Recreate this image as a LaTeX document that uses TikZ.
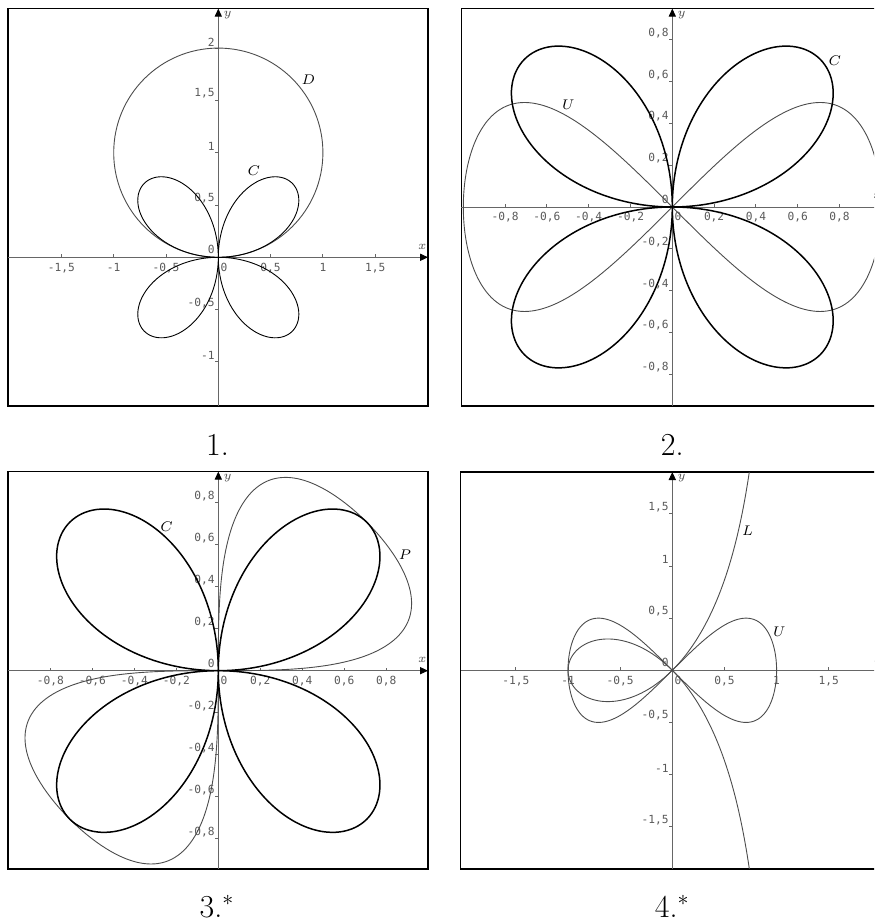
\documentclass[tikz,border=0pt]{standalone}
\usepackage{fontspec}
\setmonofont{DejaVu Sans Mono}
\usetikzlibrary{arrows.meta}

\begin{document}
\begin{tikzpicture}[
  x=0.5pt, y=0.5pt,
  panel/.style={draw=black, line width=0.7pt},
  axisline/.style={draw=black!60, line width=0.45pt},
  arrowline/.style={axisline, -{Triangle[length=4pt,width=3.6pt,color=black]}},
  tickmark/.style={draw=black!60, line width=0.45pt},
  num/.style={font=\ttfamily\fontsize{5.6}{6.5}\selectfont, text=black!65, inner sep=0pt},
  curve/.style={draw=black!70, line width=0.45pt},
  boldcurve/.style={draw=black, line width=0.75pt},
  curvelabel/.style={font=\fontsize{7.5}{9}\selectfont, inner sep=0pt},
  axislabel/.style={font=\fontsize{6.5}{8}\selectfont, text=black!70, inner sep=0pt},
  panelno/.style={font=\fontsize{16}{19}\selectfont, inner sep=0pt, anchor=base},
  declare function={pr(\q)=sqrt(abs(3*\q/(1+0.807*\q+1.193*\q*\q)));},
]
\clip (0,0) rectangle (874,924);

% Panel 1: circle D and the four-leaved rose C
\begin{scope}[shift={(218.3,666.7)}, x=52.3pt, y=52.3pt]
  \draw[panel] (-2.01,-1.422) rectangle (2.005,2.377);
  \draw[arrowline] (-2.01,0) -- (2.005,0);
  \draw[arrowline] (0,-1.422) -- (0,2.377);
  \foreach \v/\t [count=\i] in {-1.5/{-1,5}, -1/{-1}, -0.5/{-0,5}, 0.5/{0,5}, 1/{1}, 1.5/{1,5}} {
    \draw[tickmark] (\v,0) -- ++(0,1.5pt);
    \node[num, anchor=north] (p1x\i) at ([yshift=-2.6pt]\v,0) {\t};
  }
  \foreach \v/\t [count=\i] in {2/{2}, 1.5/{1,5}, 1/{1}, 0.5/{0,5}, -0.5/{-0,5}, -1/{-1}} {
    \draw[tickmark] (0,\v) -- ++(-1.5pt,0);
    \node[num, anchor=south east] (p1y\i) at ([xshift=-1.7pt, yshift=0.8pt]0,\v) {\t};
  }
  \node[num, anchor=south east] (p1y0) at ([xshift=-1.7pt, yshift=1.5pt]0,0) {0};
  \node[num, anchor=north west] (p1x0) at ([xshift=1pt, yshift=-2.6pt]0,0) {0};
  \node[axislabel] (p1ylab) at ([xshift=4.7pt, yshift=-3.2pt]0,2.377) {$y$};
  \node[axislabel] (p1xlab) at ([xshift=-2.9pt, yshift=5.3pt]2.005,0) {$x$};
  \begin{scope}
    \clip (-2.01,-1.422) rectangle (2.005,2.377);
    \draw[curve] (0,1) circle[radius=1];
    \draw[curve, draw=black] plot[domain=0:360, samples=361, smooth, variable=\a]
      ({sin(2*\a)*cos(\a)}, {sin(2*\a)*sin(\a)});
  \end{scope}
  \node[curvelabel] (labD) at (0.86,1.695) {$D$};
  \node[curvelabel] (labC1) at (0.341,0.828) {$C$};
\end{scope}

% Panel 2: rose C and Gerono's lemniscate U
\begin{scope}[shift={(672.3,717)}, x=104.5pt, y=104.5pt]
  \draw[panel] (-1.01,-0.952) rectangle (1.01,0.949);
  \draw[arrowline] (-1.01,0) -- (1.01,0);
  \draw[arrowline] (0,-0.952) -- (0,0.949);
  \foreach \v/\t [count=\i] in {-0.8/{-0,8}, -0.6/{-0,6}, -0.4/{-0,4}, -0.2/{-0,2}, 0.2/{0,2}, 0.4/{0,4}, 0.6/{0,6}, 0.8/{0,8}} {
    \draw[tickmark] (\v,0) -- ++(0,1.5pt);
    \node[num, anchor=north] (p2x\i) at ([yshift=-2.6pt]\v,0) {\t};
  }
  \foreach \v/\t [count=\i] in {0.8/{0,8}, 0.6/{0,6}, 0.4/{0,4}, 0.2/{0,2}, -0.2/{-0,2}, -0.4/{-0,4}, -0.6/{-0,6}, -0.8/{-0,8}} {
    \draw[tickmark] (0,\v) -- ++(-1.5pt,0);
    \node[num, anchor=south east] (p2y\i) at ([xshift=-1.7pt, yshift=0.8pt]0,\v) {\t};
  }
  \node[num, anchor=south east] (p2y0) at ([xshift=-1.7pt, yshift=1.5pt]0,0) {0};
  \node[num, anchor=north west] (p2x0) at ([xshift=1pt, yshift=-2.6pt]0,0) {0};
  \node[axislabel] (p2ylab) at ([xshift=4.7pt, yshift=-3.2pt]0,0.949) {$y$};
  \node[axislabel] (p2xlab) at ([xshift=-2.9pt, yshift=5.3pt]1.01,0) {$x$};
  \begin{scope}
    \clip (-1.01,-0.952) rectangle (1.01,0.949);
    \draw[curve] plot[domain=0:360, samples=241, smooth, variable=\a]
      ({cos(\a)}, {sin(\a)*cos(\a)});
    \draw[boldcurve] plot[domain=0:360, samples=361, smooth, variable=\a]
      ({sin(2*\a)*cos(\a)}, {sin(2*\a)*sin(\a)});
  \end{scope}
  \node[curvelabel] (labC2) at (0.778,0.699) {$C$};
  \node[curvelabel] (labU2) at (-0.498,0.488) {$U$};
\end{scope}

% Panel 3: rose C and the two-leaved curve P
\begin{scope}[shift={(218.3,253.3)}, x=105pt, y=105pt]
  \draw[panel] (-1.0014,-0.944) rectangle (0.9986,0.948);
  \draw[arrowline] (-1.0014,0) -- (0.9986,0);
  \draw[arrowline] (0,-0.944) -- (0,0.948);
  \foreach \v/\t [count=\i] in {-0.8/{-0,8}, -0.6/{-0,6}, -0.4/{-0,4}, -0.2/{-0,2}, 0.2/{0,2}, 0.4/{0,4}, 0.6/{0,6}, 0.8/{0,8}} {
    \draw[tickmark] (\v,0) -- ++(0,1.5pt);
    \node[num, anchor=north] (p3x\i) at ([yshift=-2.6pt]\v,0) {\t};
  }
  \foreach \v/\t [count=\i] in {0.8/{0,8}, 0.6/{0,6}, 0.4/{0,4}, 0.2/{0,2}, -0.2/{-0,2}, -0.4/{-0,4}, -0.6/{-0,6}, -0.8/{-0,8}} {
    \draw[tickmark] (0,\v) -- ++(-1.5pt,0);
    \node[num, anchor=south east] (p3y\i) at ([xshift=-1.7pt, yshift=0.8pt]0,\v) {\t};
  }
  \node[num, anchor=south east] (p3y0) at ([xshift=-1.7pt, yshift=1.5pt]0,0) {0};
  \node[num, anchor=north west] (p3x0) at ([xshift=1pt, yshift=-2.6pt]0,0) {0};
  \node[axislabel] (p3ylab) at ([xshift=4.7pt, yshift=-3.2pt]0,0.948) {$y$};
  \node[axislabel] (p3xlab) at ([xshift=-2.9pt, yshift=5.3pt]0.9986,0) {$x$};
  \begin{scope}
    \clip (-1.0014,-0.944) rectangle (0.9986,0.948);
    \draw[curve] plot[domain=0:180, samples=241, smooth, variable=\u]
      ({pr(cos(90*cos(\u)))*cos(45-45*cos(\u))}, {pr(cos(90*cos(\u)))*sin(45-45*cos(\u))});
    \draw[curve] plot[domain=0:180, samples=241, smooth, variable=\u]
      ({-pr(cos(90*cos(\u)))*cos(45-45*cos(\u))}, {-pr(cos(90*cos(\u)))*sin(45-45*cos(\u))});
    \draw[boldcurve] plot[domain=0:360, samples=361, smooth, variable=\a]
      ({sin(2*\a)*cos(\a)}, {sin(2*\a)*sin(\a)});
  \end{scope}
  \node[curvelabel] (labC3) at (-0.246,0.686) {$C$};
  \node[curvelabel] (labP3) at (0.889,0.551) {$P$};
\end{scope}

% Panel 4: strophoid L and Gerono's lemniscate U
\begin{scope}[shift={(672.3,253.7)}, x=52.15pt, y=52.15pt]
  \draw[panel] (-2.03,-1.905) rectangle (2.03,1.901);
  \draw[arrowline] (-2.03,0) -- (2.03,0);
  \draw[arrowline] (0,-1.905) -- (0,1.901);
  \foreach \v/\t [count=\i] in {-1.5/{-1,5}, -1/{-1}, -0.5/{-0,5}, 0.5/{0,5}, 1/{1}, 1.5/{1,5}} {
    \draw[tickmark] (\v,0) -- ++(0,1.5pt);
    \node[num, anchor=north] (p4x\i) at ([yshift=-2.6pt]\v,0) {\t};
  }
  \foreach \v/\t [count=\i] in {1.5/{1,5}, 1/{1}, 0.5/{0,5}, -0.5/{-0,5}, -1/{-1}, -1.5/{-1,5}} {
    \draw[tickmark] (0,\v) -- ++(-1.5pt,0);
    \node[num, anchor=south east] (p4y\i) at ([xshift=-1.7pt, yshift=0.8pt]0,\v) {\t};
  }
  \node[num, anchor=south east] (p4y0) at ([xshift=-1.7pt, yshift=1.5pt]0,0) {0};
  \node[num, anchor=north west] (p4x0) at ([xshift=1pt, yshift=-2.6pt]0,0) {0};
  \node[axislabel] (p4ylab) at ([xshift=4.7pt, yshift=-3.2pt]0,1.901) {$y$};
  \node[axislabel] (p4xlab) at ([xshift=-2.9pt, yshift=5.3pt]2.03,0) {$x$};
  \begin{scope}
    \clip (-2.03,-1.905) rectangle (2.03,1.901);
    \draw[curve] plot[domain=0:360, samples=241, smooth, variable=\a]
      ({cos(\a)}, {sin(\a)*cos(\a)});
    \draw[curve] plot[domain=-3:3, samples=301, smooth, variable=\s]
      ({(\s*\s-1)/(\s*\s+1)}, {\s*(\s*\s-1)/(\s*\s+1)});
  \end{scope}
  \node[curvelabel] (labL4) at (0.723,1.336) {$L$};
  \node[curvelabel] (labU4) at (1.026,0.37) {$U$};
\end{scope}

% Numbers under the panels
\node[panelno] (no1) at (217.5,468) {1.};
\node[panelno] (no2) at (672.3,468) {2.};
\node[panelno] (no3) at (217,6) {3.$^*$};
\node[panelno] (no4) at (672.3,6) {4.$^*$};
\end{tikzpicture}
\end{document}
